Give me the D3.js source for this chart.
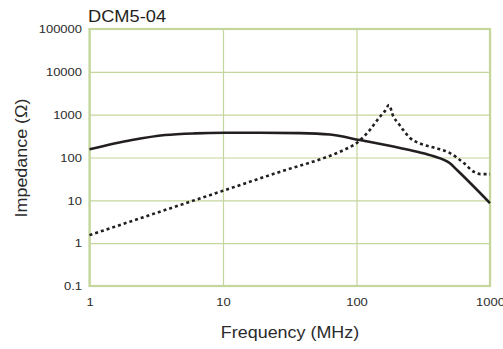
<!DOCTYPE html>
<html>
<head>
<meta charset="utf-8">
<script src="https://cdn.jsdelivr.net/npm/d3@7"></script>
<style>
  html, body { margin: 0; padding: 0; background: #fff; }
  svg { display: block; font-family: "Liberation Sans", Arial, Helvetica, sans-serif; }
</style>
</head>
<body>
<svg id="chart" width="503" height="349"></svg>
<script>
// ---- data ----
const chartTitle = "DCM5-04";
const xTitle = "Frequency (MHz)";
const yTitle = "Impedance (Ω)";
const xTicks = [1, 10, 100, 1000];
const xTickLabels = ["1", "10", "100", "1000"];
const yTicks = [0.1, 1, 10, 100, 1000, 10000, 100000];
const yTickLabels = ["0.1", "1", "10", "100", "1000", "10000", "100000"];

const solidFreq = [1, 2.08, 3.68, 6.17, 10.4, 18.9, 37.7, 63.3, 106, 212, 299, 374, 501, 566, 1000];
const solidZ    = [155, 255, 334, 366, 377, 378, 371, 343, 255, 166, 131, 108, 73, 51, 8.6];

const dashFreq = [1, 10, 30, 53, 75, 106, 126, 150, 163, 175, 189, 206, 224, 252, 299, 374, 501, 640, 760, 850, 1000];
const dashZ    = [1.54, 16.7, 52, 90, 136, 250, 440, 900, 1210, 1670, 893, 626, 437, 285, 212, 173, 127, 73, 46, 41, 41];

// ---- layout ----
const svg = d3.select("#chart");
const mLeft = 89.5, mRight = 490, mTop = 29, mBottom = 286;
const sx = 1.12; // horizontal text stretch
const gridColor = "#c4d69c";
const textColor = "#2b2b2b";

const x = d3.scaleLog().domain([1, 1000]).range([mLeft, mRight]);
const y = d3.scaleLog().domain([0.1, 100000]).range([mBottom, mTop]);

// gridlines + tick labels via axes
const xAxis = d3.axisBottom(x).tickValues(xTicks)
  .tickFormat((d, i) => xTickLabels[i])
  .tickSize(-(mBottom - mTop)).tickPadding(12);
const gx = svg.append("g").attr("transform", `translate(0,${mBottom})`).call(xAxis);
gx.select(".domain").remove();
gx.selectAll(".tick line").attr("stroke", gridColor).attr("stroke-width", 1.2);
gx.selectAll(".tick text").attr("fill", textColor).style("font-size", "11.6px")
  .attr("transform", `scale(${sx},1)`);

const yAxis = d3.axisLeft(y).tickValues(yTicks)
  .tickFormat((d, i) => yTickLabels[i])
  .tickSize(-(mRight - mLeft)).tickPadding(6.7);
const gy = svg.append("g").attr("transform", `translate(${mLeft},0)`).call(yAxis);
gy.select(".domain").remove();
gy.selectAll(".tick line").attr("stroke", gridColor).attr("stroke-width", 1.2);
gy.selectAll(".tick text").attr("fill", textColor).style("font-size", "11.6px")
  .attr("transform", `scale(${sx},1)`);

// frame
svg.append("rect")
  .attr("x", mLeft).attr("y", mTop)
  .attr("width", mRight - mLeft).attr("height", mBottom - mTop)
  .attr("fill", "none").attr("stroke", gridColor).attr("stroke-width", 2.2);

// curves
const line = d3.line().curve(d3.curveMonotoneX)
  .x(d => x(d[0])).y(d => y(d[1]));

const solidData = solidFreq.map((f, i) => [f, solidZ[i]]);
const dashData = dashFreq.map((f, i) => [f, dashZ[i]]);

svg.append("path").datum(dashData)
  .attr("d", line).attr("fill", "none")
  .attr("stroke", "#231f20").attr("stroke-width", 2.6)
  .attr("stroke-dasharray", "3,3");

svg.append("path").datum(solidData)
  .attr("d", line).attr("fill", "none")
  .attr("stroke", "#231f20").attr("stroke-width", 2.6);

// titles
svg.append("text")
  .attr("transform", `translate(88,21.7) scale(${sx},1)`)
  .attr("fill", "#231f20").style("font-size", "16.3px")
  .text(chartTitle);

svg.append("text")
  .attr("transform", `translate(290,338) scale(${sx},1)`)
  .attr("text-anchor", "middle")
  .attr("fill", textColor).style("font-size", "16px")
  .text(xTitle);

svg.append("text")
  .attr("transform", `translate(26.5,158) rotate(-90) scale(${sx},1)`)
  .attr("text-anchor", "middle")
  .attr("fill", textColor).style("font-size", "16px")
  .text(yTitle);
</script>
</body>
</html>
